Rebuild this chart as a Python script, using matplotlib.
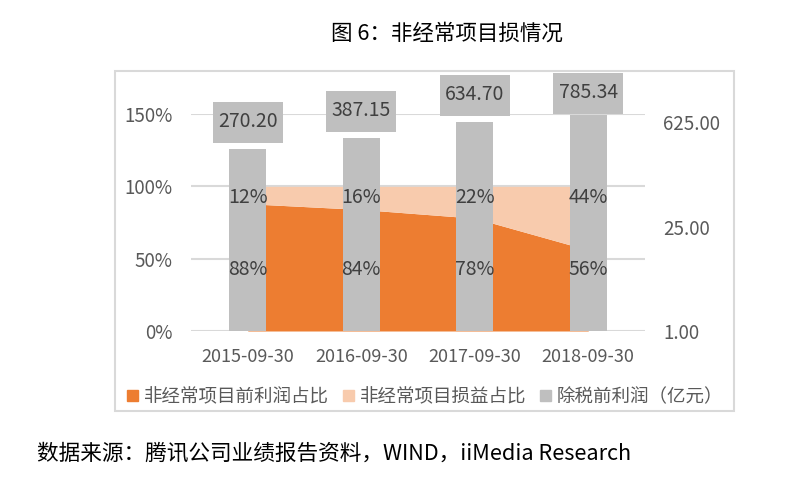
import matplotlib
matplotlib.use("Agg")
import matplotlib.pyplot as plt
from matplotlib.patches import Rectangle, Patch
from matplotlib.ticker import FuncFormatter, FixedLocator
import numpy as np

plt.rcParams['font.family'] = ['Noto Sans CJK SC', 'DejaVu Sans']

categories = ["2015-09-30", "2016-09-30", "2017-09-30", "2018-09-30"]
pre_share = [0.88, 0.84, 0.78, 0.56]          # 非经常项目前利润占比
gain_share = [0.12, 0.16, 0.22, 0.44]         # 非经常项目损益占比
profit = [270.20, 387.15, 634.70, 785.34]     # 除税前利润（亿元）
left_ticks = [0, 0.5, 1.0, 1.5]
right_ticks = [1, 25, 625]

title = "图 6：非经常项目损情况"
source = "数据来源：腾讯公司业绩报告资料，WIND，iiMedia Research"
legend_labels = ["非经常项目前利润占比", "非经常项目损益占比", "除税前利润（亿元）"]

C_ORANGE = "#ED7D31"
C_PEACH = "#F8CBAD"
C_GRAY = "#BFBFBF"
C_TEXT = "#595959"
C_LABEL = "#404040"
C_GRID = "#D9D9D9"

W, H = 809, 488
fig = plt.figure(figsize=(W / 100, H / 100), dpi=100)

# outer border
fig.patches.append(Rectangle((115 / W, 1 - 411 / H), (734 - 115) / W, (411 - 71) / H,
                             transform=fig.transFigure, fill=False,
                             edgecolor=C_GRID, lw=1.5, zorder=0))

ax1 = fig.add_axes([191 / W, 1 - 331 / H, (645 - 191) / W, (331 - 114) / H])
ax2 = ax1.twinx()

x = np.arange(len(categories))
pre = np.array(pre_share)
gain = np.array(gain_share)

ax1.fill_between(x, 0, pre, color=C_ORANGE, lw=0, zorder=2)
ax1.fill_between(x, pre, pre + gain, color=C_PEACH, lw=0, zorder=2)
ax1.set_xlim(-0.5, len(categories) - 0.5)
ax1.set_ylim(0, 1.5)
ax1.yaxis.set_major_locator(FixedLocator(left_ticks))
ax1.yaxis.set_major_formatter(FuncFormatter(lambda v, p: f"{v * 100:.0f}%"))
ax1.set_xticks(x)
ax1.set_xticklabels(categories)
ax1.grid(axis='y', color=C_GRID, lw=1.5, zorder=0)
ax1.set_axisbelow(True)

ax2.set_yscale('log')
ax2.bar(x, profit, width=0.33, color=C_GRAY, zorder=3)
ax2.set_ylim(1, 800)
ax2.yaxis.set_major_locator(FixedLocator(right_ticks))
ax2.yaxis.set_minor_locator(FixedLocator([]))
ax2.yaxis.set_major_formatter(FuncFormatter(lambda v, p: f"{v:.2f}"))

for a in (ax1, ax2):
    for s in a.spines.values():
        s.set_visible(False)
    a.patch.set_visible(False)
ax1.tick_params(axis='y', length=0, pad=13.5, labelsize=13.5, labelcolor=C_TEXT)
ax1.tick_params(axis='x', length=0, pad=12, labelsize=13, labelcolor=C_TEXT)
ax2.tick_params(axis='y', which='both', length=0, pad=13, labelsize=13.5, labelcolor=C_TEXT)

# bar value labels: gray box (70x41 px) sitting ~6 px above each bar, kept inside the frame
BOX_W, BOX_H, GAP, TOP_LIMIT = 70, 41, 6, 73
for xi, v in zip(x, profit):
    px, py = ax2.transData.transform((xi, v))   # display pixels, origin bottom-left
    top_px_from_top = H - (py + GAP + BOX_H)
    if top_px_from_top < TOP_LIMIT:
        box_bottom = H - TOP_LIMIT - BOX_H
    else:
        box_bottom = py + GAP
    fig.patches.append(Rectangle(((px - BOX_W / 2) / W, box_bottom / H), BOX_W / W, BOX_H / H,
                                 transform=fig.transFigure, facecolor=C_GRAY,
                                 edgecolor='none', zorder=5))
    fig.text(px / W, (box_bottom + BOX_H / 2 + 1) / H, f"{v:.2f}", ha='center', va='center',
             fontsize=14, color=C_LABEL, zorder=6)

# area labels (drawn above bars)
for xi, p, g in zip(x, pre_share, gain_share):
    ax2.text(xi, 0.425, f"{p * 100:.0f}%", transform=ax1.transData, ha='center', va='center',
             fontsize=14, color=C_LABEL, zorder=6)
    ax2.text(xi, 0.92, f"{g * 100:.0f}%", transform=ax1.transData, ha='center', va='center',
             fontsize=14, color=C_LABEL, zorder=6)

handles = [Patch(color=C_ORANGE), Patch(color=C_PEACH), Patch(color=C_GRAY)]
fig.legend(handles, legend_labels, loc='center', bbox_to_anchor=(425 / W, 1 - 397 / H),
           ncol=3, frameon=False, fontsize=13.3, labelcolor=C_TEXT,
           handlelength=0.62, handleheight=0.62, handletextpad=0.3, columnspacing=0.75)

fig.text(447 / W, 1 - 34 / H, title, ha='center', va='center', fontsize=15.5,
         color='black', fontweight='medium')
fig.text(37 / W, 1 - 454 / H, source, ha='left', va='center', fontsize=15.6, color='black')

fig.savefig("out.png", dpi=100)
